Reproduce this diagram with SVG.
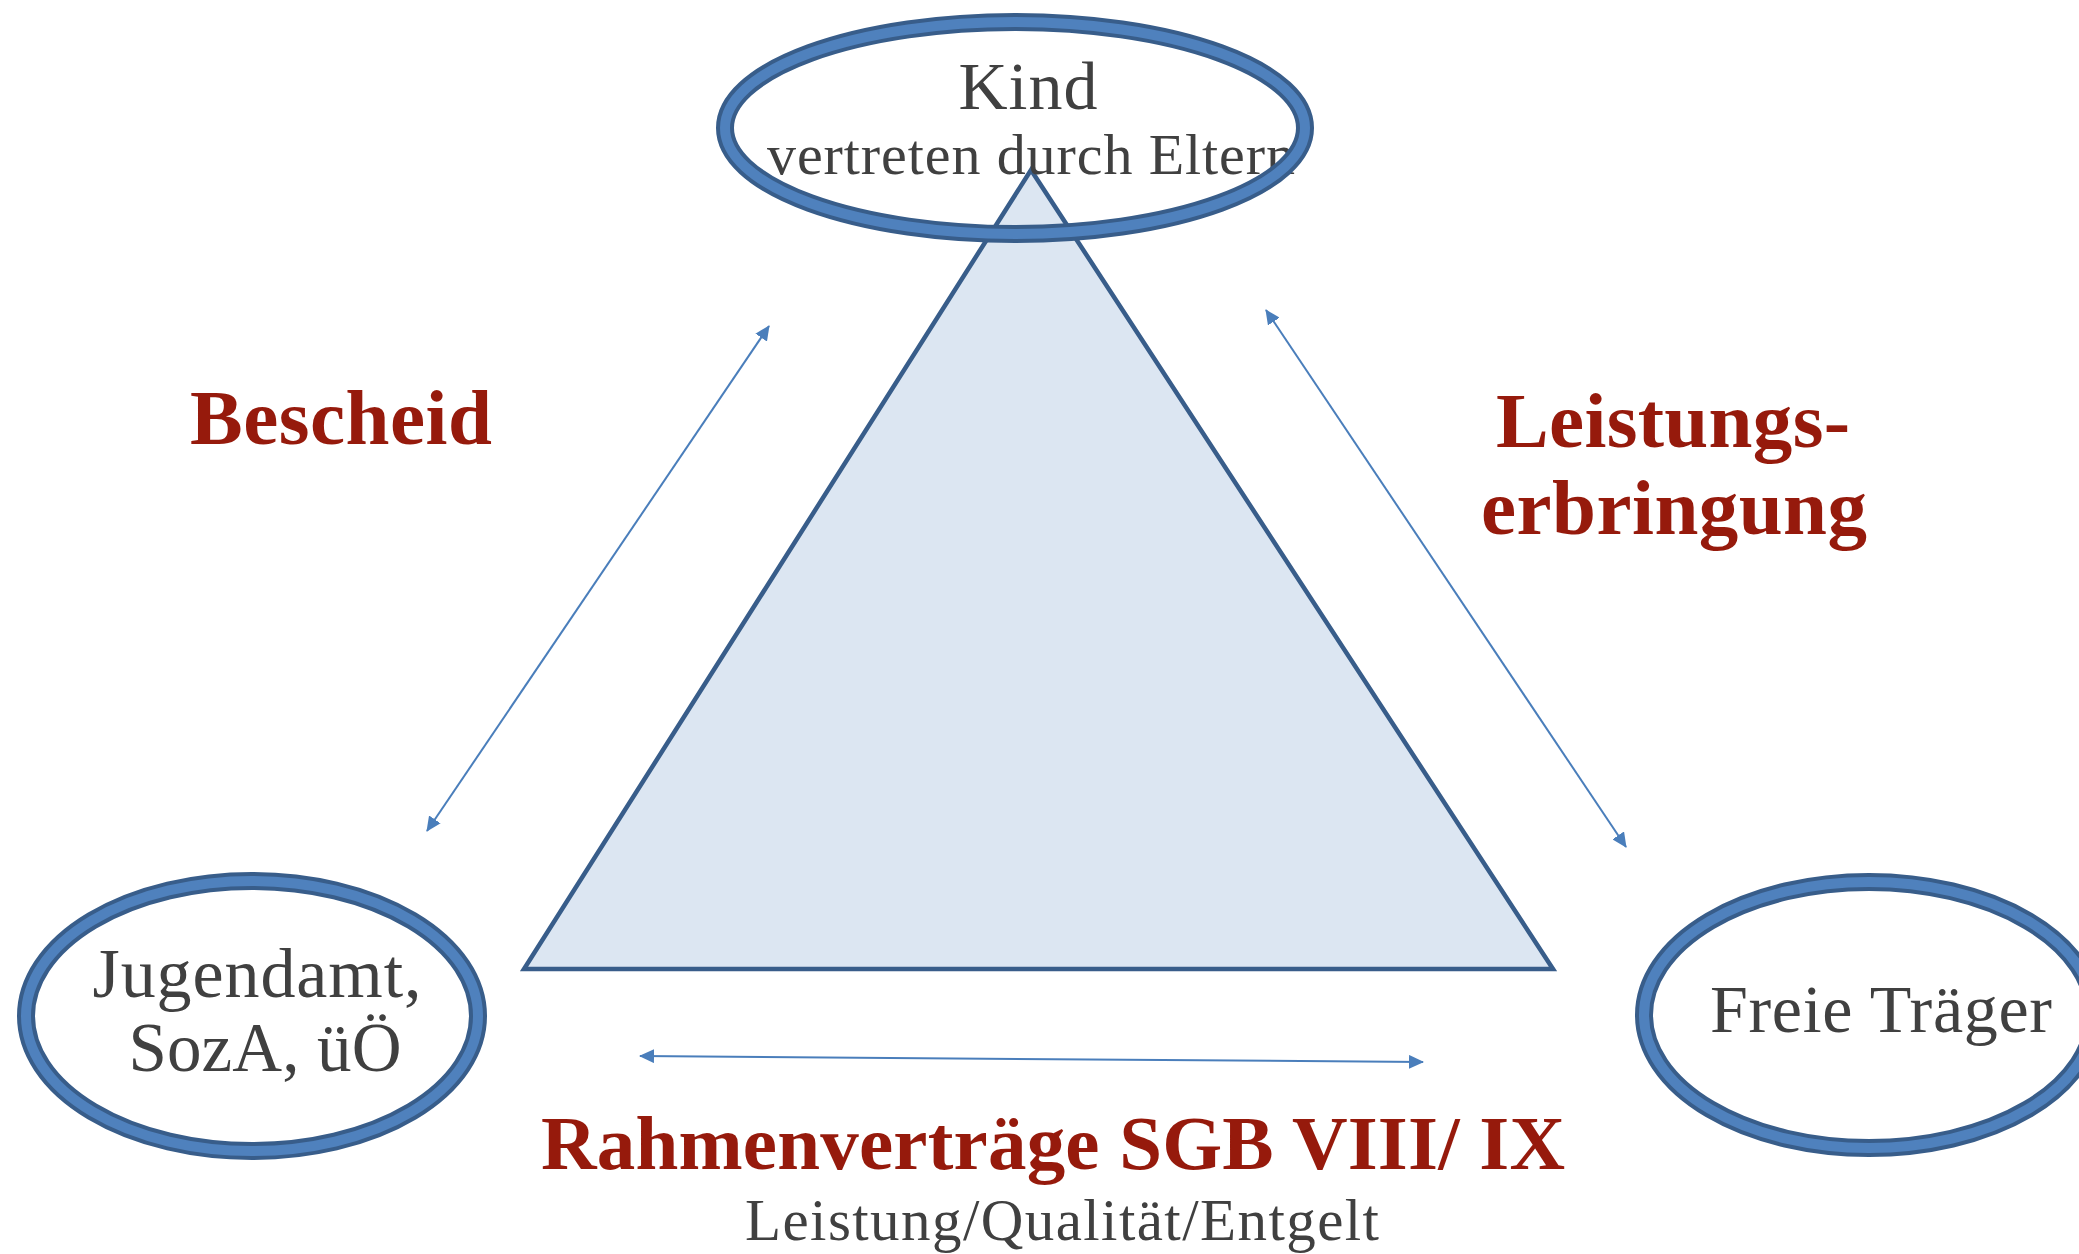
<svg xmlns="http://www.w3.org/2000/svg" width="2079" height="1254" viewBox="0 0 2079 1254">
  <style>
    .ring-dark { fill: none; stroke: #385D8A; stroke-width: 18; }
    .ring-light { fill: none; stroke: #4F81BD; stroke-width: 10; }
    .lbl { font-family: "Liberation Serif", "DejaVu Serif", serif; fill: #404040; text-anchor: middle; }
    .red { font-family: "Liberation Serif", "DejaVu Serif", serif; fill: #961A0C; font-weight: bold; text-anchor: middle; }
    .conn { stroke: #4A7EBB; stroke-width: 2; fill: none; marker-start: url(#ah); marker-end: url(#ah); }
  </style>
  <defs>
    <marker id="ah" viewBox="0 0 15 14" refX="14" refY="7" markerWidth="15" markerHeight="14" markerUnits="userSpaceOnUse" orient="auto-start-reverse">
      <path d="M0,0 L15,7 L0,14 z" fill="#4A7EBB"/>
    </marker>
  </defs>
  <rect x="0" y="0" width="2079" height="1254" fill="#FFFFFF"/>

  <g id="triangle">
    <polygon points="1031,170 524,969 1553,969" fill="#DCE6F2" stroke="#385D8A" stroke-width="4.5" stroke-linejoin="miter"/>
  </g>

  <g id="node-kind">
    <text class="lbl" x="1028" y="109" font-size="68" textLength="139" lengthAdjust="spacing">Kind</text>
    <text class="lbl" x="1031" y="174" font-size="58" textLength="528" lengthAdjust="spacing">vertreten durch Eltern</text>
    <ellipse class="ring-dark" cx="1015" cy="128" rx="290" ry="106"/>
    <ellipse class="ring-light" cx="1015" cy="128" rx="290" ry="106"/>
  </g>

  <g id="node-jugendamt">
    <ellipse class="ring-dark" cx="252" cy="1016" rx="226" ry="135"/>
    <ellipse class="ring-light" cx="252" cy="1016" rx="226" ry="135"/>
    <text class="lbl" x="257" y="997" font-size="70" textLength="329" lengthAdjust="spacing">Jugendamt,</text>
    <text class="lbl" x="265" y="1071" font-size="69" textLength="273" lengthAdjust="spacing">SozA, üÖ</text>
  </g>

  <g id="node-traeger">
    <ellipse class="ring-dark" cx="1869" cy="1015" rx="225" ry="133"/>
    <ellipse class="ring-light" cx="1869" cy="1015" rx="225" ry="133"/>
    <text class="lbl" x="1881" y="1032" font-size="68" textLength="342" lengthAdjust="spacing">Freie Träger</text>
  </g>

  <g id="connectors">
    <line class="conn" x1="427" y1="831" x2="769" y2="326"/>
    <line class="conn" x1="1266" y1="310" x2="1626" y2="847"/>
    <line class="conn" x1="640" y1="1056" x2="1423" y2="1062"/>
  </g>

  <g id="labels">
    <text class="red" x="341" y="444" font-size="79" textLength="302" lengthAdjust="spacing">Bescheid</text>
    <text class="red" x="1673" y="447" font-size="79" textLength="354" lengthAdjust="spacing">Leistungs-</text>
    <text class="red" x="1674" y="534" font-size="79" textLength="386" lengthAdjust="spacing">erbringung</text>
    <text class="red" x="1053" y="1169" font-size="77" textLength="1024" lengthAdjust="spacing">Rahmenverträge SGB VIII/ IX</text>
    <text class="lbl" x="1062" y="1240" font-size="59" textLength="634" lengthAdjust="spacing">Leistung/Qualität/Entgelt</text>
  </g>
</svg>
